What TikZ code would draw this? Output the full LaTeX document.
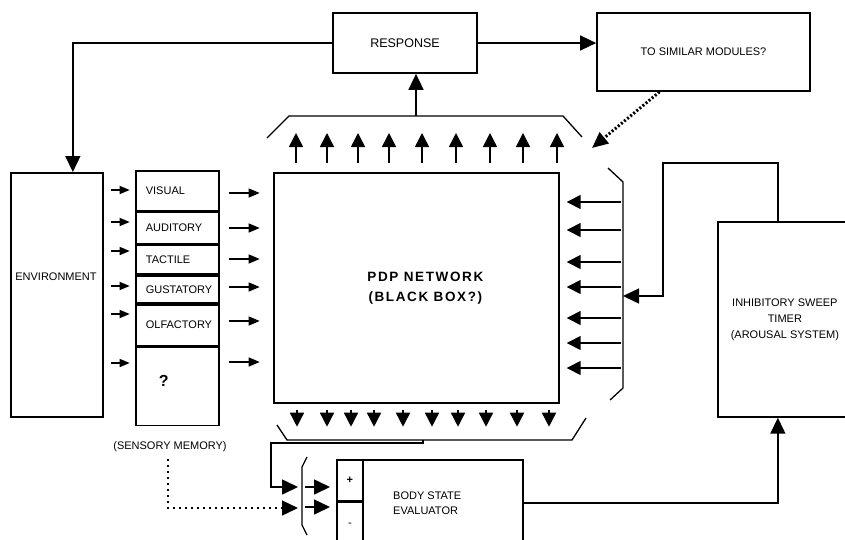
\documentclass[tikz,border=0pt]{standalone}
\usepackage{fontspec}
\setmainfont{Liberation Sans}
\newfontfamily\pdpfont[LetterSpace=12]{Liberation Sans}
\usetikzlibrary{arrows.meta,positioning}

\begin{document}
\begin{tikzpicture}[
    x=1pt, y=-1pt,
    box_style/.style={draw, line width=1.7pt, inner sep=0pt, font=\fontsize{11}{13}\selectfont},
    cell_style/.style={box_style, minimum width=83pt, text width=63pt, inner xsep=10pt, align=left},
    label_style/.style={inner sep=0pt, font=\fontsize{11}{13}\selectfont},
    link_style/.style={line width=1.5pt, -{Triangle[length=16pt, width=15pt]}},
    fan_style/.style={line width=1.5pt, -{Triangle[length=14pt, width=14pt]}},
    tiny_style/.style={line width=1.3pt, -{Triangle[length=10pt, width=8pt]}},
    feed_style/.style={line width=1.2pt, -{Triangle[length=11pt, width=9pt]}},
    hint_style/.style={line width=3pt, dash pattern=on 2pt off 2pt, -{Triangle[length=16pt, width=14pt]}},
    memory_style/.style={line width=1.3pt, dash pattern=on 2pt off 4pt, -{Triangle[length=16pt, width=15pt]}},
    bracket_style/.style={line width=1.3pt}
]
\useasboundingbox (0,0) rectangle (845,539);
\clip (0,0) rectangle (845,539);
\fill[white] (0,0) rectangle (845,539);

% Top row
\node[box_style, minimum width=144pt, minimum height=60pt, font=\fontsize{12.5}{14}\selectfont] (response) at (405,43) {RESPONSE};
\node[box_style, minimum width=213pt, minimum height=78pt] (similar) at (703.5,52) {TO SIMILAR MODULES?};

% Environment and sensory memory
\node[box_style, minimum width=92pt, minimum height=244pt, anchor=north west] (env) at (10,172) {};
\node[label_style] (env_text) at (56,277) {ENVIRONMENT};
\node[cell_style, minimum height=40pt, anchor=north west] (visual) at (135,170) {VISUAL};
\node[cell_style, minimum height=31pt, below=0pt of visual] (auditory) {AUDITORY};
\node[cell_style, minimum height=29pt, below=0pt of auditory] (tactile) {TACTILE};
\node[cell_style, minimum height=27pt, below=0pt of tactile] (gustatory) {GUSTATORY};
\node[cell_style, minimum height=41pt, below=0pt of gustatory] (olfactory) {OLFACTORY};
\node[cell_style, minimum height=78pt, below=0pt of olfactory] (unknown) {\fontsize{16}{18}\selectfont\bfseries\hspace{13pt}\raisebox{10pt}{?}};
\node[label_style] (memory) at (170,447) {(SENSORY MEMORY)};

% Network, timer and evaluator
\node[box_style, minimum width=285pt, minimum height=230pt, anchor=north west, align=center,
      font=\pdpfont\bfseries\fontsize{13.5}{20}\selectfont] (pdp) at (273,172) {\hspace{18pt}PDP NETWORK\\\hspace{18pt}(BLACK BOX?)};
\node[box_style, minimum width=134pt, minimum height=195pt, anchor=north west, align=center,
      font=\fontsize{11}{16}\selectfont] (timer) at (717,221) {INHIBITORY SWEEP\\TIMER\\(AROUSAL SYSTEM)};
\node[box_style, minimum width=26pt, minimum height=41pt, anchor=north west, font=\bfseries\fontsize{11}{13}\selectfont] (plus) at (336,459) {+};
\node[box_style, minimum width=26pt, minimum height=45pt, below=0pt of plus] (minus) {-};
\node[box_style, minimum width=160pt, minimum height=86pt, anchor=north west] (body) at (362,459) {};
\node[label_style, anchor=west, align=left, font=\fontsize{11}{15}\selectfont] (body_text) at ([xshift=31pt]body.west) {BODY STATE\\EVALUATOR};

% Brackets round the network
\draw[bracket_style] (267,138) -- (289,116) -- (563,116) -- (582,137);
\draw[bracket_style] (608,168) -- (623,182) -- (623,388) -- (610,400);
\draw[bracket_style] (277,425) -- (287,440) -- (572,440) -- (586,418);
\draw[bracket_style] (307,457) -- (302,467) -- (302,525) -- (307,535);

\coordinate (net_out) at (416,116);
\coordinate (hint_in) at (592,148);
\coordinate (sweep_in) at (623,296);
\coordinate (eval_out) at (423,440);
\coordinate (plus_in) at (298,487);
\coordinate (minus_in) at (298,508);

% Arrow fans
\foreach \y in {190,222,251,286,314,363}
    \draw[tiny_style] (env.east |- 0,\y) ++(7,0) -- ++(19,0);
\foreach \y in {193,228,259,287,321,362}
    \draw[feed_style] (visual.east |- 0,\y) ++(9,0) -- ++(31,0);
\foreach \x in {296,327,358,389,422,456,490,523,557}
    \draw[fan_style] (pdp.north -| \x,0) ++(0,-9) -- ++(0,-30);
\foreach \x in {297,327,351,374,403,432,458,486,517,549}
    \draw[fan_style] (pdp.south -| \x,0) ++(0,6) -- ++(0,17);
\foreach \y in {202,230,262,287,318,343,368}
    \draw[fan_style] (pdp.east |- 0,\y) ++(61,0) -- ++(-54,0);
\foreach \y in {487,507}
    \draw[link_style] (plus.west |- 0,\y) ++(-31,0) -- ++(25,0);

% Connectors
\draw[link_style] (response.west) -| ([xshift=16pt]env.north);
\draw[link_style] (response.east) -- (similar.west |- response.east);
\draw[link_style] (net_out) -- (response.south -| net_out);
\draw[hint_style] ([xshift=-44pt]similar.south) -- (hint_in);
\draw[link_style] ([xshift=-7pt]timer.north) |- (663,163) |- (sweep_in);
\draw[link_style] (body.east) -| ([xshift=-7pt]timer.south);
\draw[link_style] (eval_out) |- (271,443) |- (plus_in);
\draw[memory_style] ([xshift=-2pt, yshift=-7pt]memory.south) |- (minus_in);

\end{tikzpicture}
\end{document}
